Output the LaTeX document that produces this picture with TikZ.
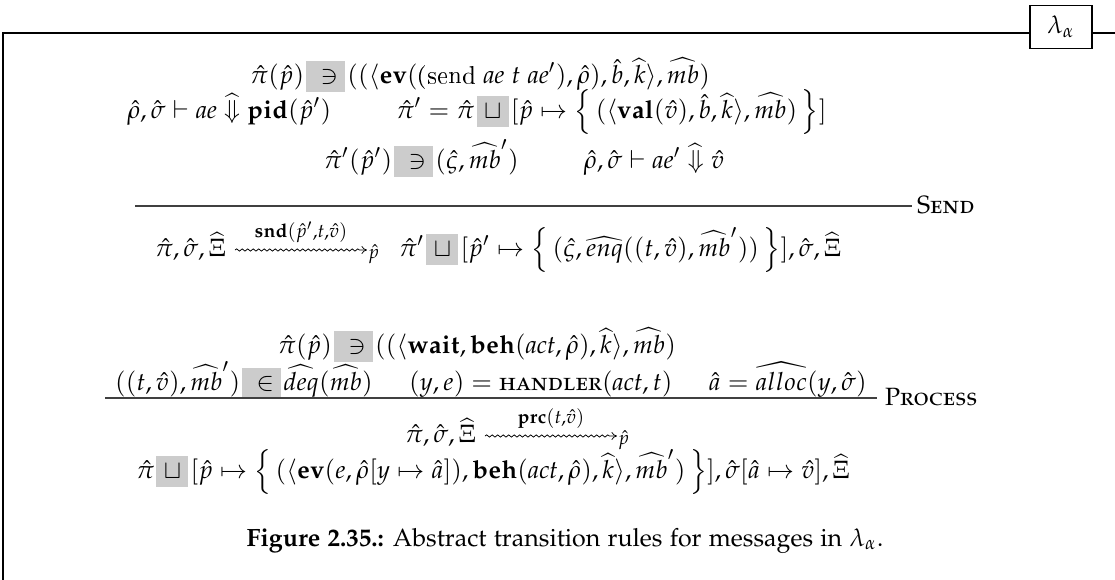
\documentclass[tikz,border=0pt]{standalone}
\usepackage[T1]{fontenc}
\usepackage{amsmath,amssymb}
\usepackage[sc]{mathpazo}
\renewcommand\ttdefault{lmtt}
\usetikzlibrary{decorations.pathmorphing,arrows.meta,calc}
\definecolor{hlgray}{gray}{0.8}
% highlighted relation symbol
\newcommand\hlrel[1]{\mskip1.5mu{\setlength{\fboxsep}{0.8pt}\colorbox{hlgray}{\hspace{2pt}$\vphantom{(}#1$\hspace{2pt}}}\mskip1.5mu}
\newcommand\hmb{\widehat{mb}}
\newcommand\evalto{\mathrel{\widehat{\Downarrow}}}
\newcommand\premsep{\hskip 2.6em}
\newcommand\premsepn{\hskip 1.45em}
\newcommand\lset{\Big\{\,}
\newcommand\rset{\,\Big\}}
\tikzset{
  line/.style={line width=0.45pt},
  rulebar/.style={line width=0.45pt, draw=black!75},
  squig/.style={line width=0.3pt, decorate,
    decoration={snake, amplitude=0.45pt, segment length=2.2pt, post length=2.3pt},
    -{To[length=2.2pt,width=3.2pt]}},
  txt/.style={anchor=base, inner sep=0pt, outer sep=0pt},
  ltxt/.style={anchor=base west, inner sep=0pt, outer sep=0pt},
}
\begin{document}
\begin{tikzpicture}[x=0.4pt, y=-0.4pt]
\useasboundingbox (0,0) rectangle (1115,580);
% frame with the language tag
\node[draw, line width=0.45pt, minimum width=62*0.4pt, minimum height=43*0.4pt, inner sep=0pt] (tag) at (1061,27) {$\lambda_\alpha$};
\draw[line] (3,580) -- (3,33) -- (tag.west |- 0,33);
\draw[line] (tag.east |- 0,33) -- (1115,33);

% ---- rule Send ----
\node[txt] (s1) at (480,83) {$\hat\pi(\hat p)\hlrel{\ni}((\langle\mathbf{ev}(\texttt{(send}\ \mathit{ae}\ t\ \mathit{ae}'),\hat\rho),\hat b,\widehat{k}\rangle,\hmb)$};
\node[txt] (s2) at (477,118) {$\hat\rho,\hat\sigma\vdash\mathit{ae}\evalto\mathbf{pid}(\hat p')\premsep\hat\pi'=\hat\pi\hlrel{\sqcup}[\hat p\mapsto\lset(\langle\mathbf{val}(\hat v),\hat b,\widehat{k}\rangle,\hmb)\rset]$};
\node[txt] (s3) at (524,168) {$\hat\pi'(\hat p')\hlrel{\ni}(\hat\varsigma,\hmb')\premsep\hat\rho,\hat\sigma\vdash\mathit{ae}'\evalto\hat v$};
\coordinate (sbl) at (135,206);
\coordinate (sbr) at (912,206);
\draw[rulebar] (sbl) -- (sbr);
\node[ltxt] (sname) at (917,213) {\textsc{Send}};
\node[ltxt] (scl) at (155,256) {$\hat\pi,\hat\sigma,\widehat\Xi$};
\coordinate (sas) at ([shift={(9,-6)}]scl.base east);
\coordinate (sae) at ([shift={(132,0)}]sas);
\draw[squig] (sas) -- (sae);
\node[txt] (slab) at ([shift={(0,-13)}]$(sas)!0.5!(sae)$) {$\scriptstyle\mathbf{snd}(\hat p',t,\hat v)$};
\node[ltxt] (ssub) at ([shift={(1,8)}]sae) {$\scriptstyle\hat p$};
\node[ltxt] (scr) at ([shift={(20,0)}]ssub.base east |- scl.base) {$\hat\pi'\hlrel{\sqcup}[\hat p'\mapsto\lset(\hat\varsigma,\widehat{enq}((t,\hat v),\hmb'))\rset],\hat\sigma,\widehat\Xi$};

% ---- rule Process ----
\node[txt] (p1) at (477,353) {$\hat\pi(\hat p)\hlrel{\ni}((\langle\mathbf{wait},\mathbf{beh}(\mathit{act},\hat\rho),\widehat{k}\rangle,\hmb)$};
\node[txt] (p2) at (491,390) {$((t,\hat v),\hmb')\hlrel{\in}\widehat{deq}(\hmb)\premsepn(y,e)=\textsc{handler}(\mathit{act},t)\premsepn\hat a=\widehat{alloc}(y,\hat\sigma)$};
\coordinate (pbl) at (105,398);
\coordinate (pbr) at (877,398);
\draw[rulebar] (pbl) -- (pbr);
\node[ltxt] (pname) at (885,405) {\textsc{Process}};
\node[ltxt] (pcl) at (405,442) {$\hat\pi,\hat\sigma,\widehat\Xi$};
\coordinate (pas) at ([shift={(9,-6)}]pcl.base east);
\coordinate (pae) at ([shift={(132,0)}]pas);
\draw[squig] (pas) -- (pae);
\node[txt] (plab) at ([shift={(0,-13)}]$(pas)!0.5!(pae)$) {$\scriptstyle\mathbf{prc}(t,\hat v)$};
\node[ltxt] (psub) at ([shift={(1,8)}]pae) {$\scriptstyle\hat p$};
\node[txt] (p3) at (493,478) {$\hat\pi\hlrel{\sqcup}[\hat p\mapsto\lset(\langle\mathbf{ev}(e,\hat\rho[y\mapsto\hat a]),\mathbf{beh}(\mathit{act},\hat\rho),\widehat{k}\rangle,\hmb')\rset],\hat\sigma[\hat a\mapsto\hat v],\widehat\Xi$};

% ---- caption ----
\node[txt] (cap) at (565,546) {\textbf{Figure 2.35.:} Abstract transition rules for messages in $\lambda_\alpha$.};
\end{tikzpicture}
\end{document}
